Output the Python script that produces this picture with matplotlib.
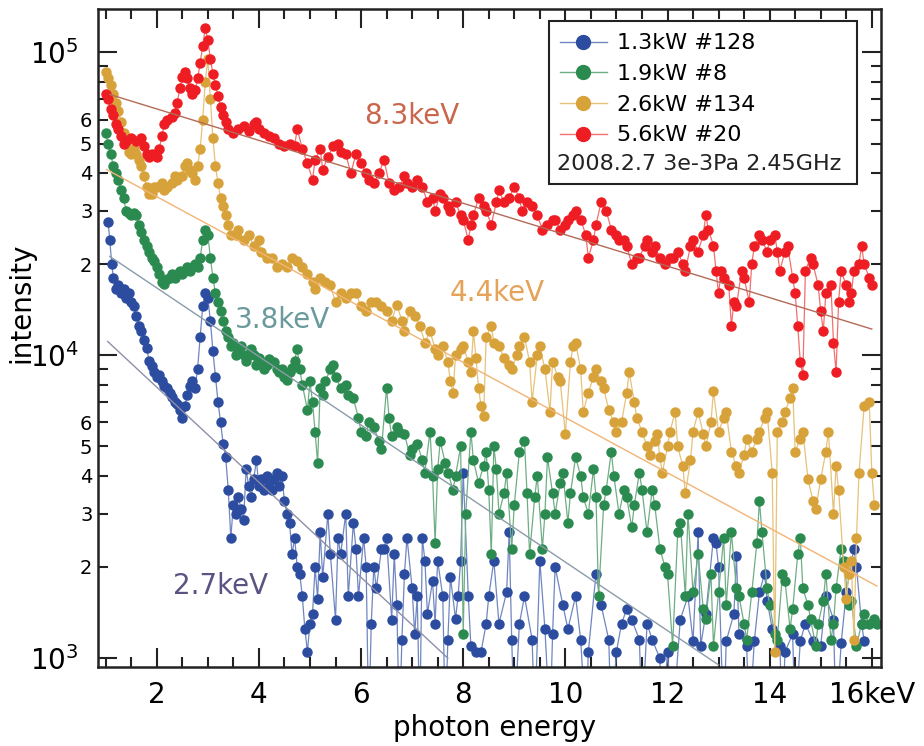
import numpy as np
import matplotlib
matplotlib.use("Agg")
import matplotlib.pyplot as plt
from matplotlib.lines import Line2D
from matplotlib.patches import Rectangle
from matplotlib.ticker import MultipleLocator, LogLocator, FuncFormatter

# (photon energy keV, intensity)
blue = [(1.05,27.5e3),(1.08,24e3),(1.12,20e3),(1.15,18e3),(1.2,16.5e3),(1.25,17e3),(1.3,16e3),(1.35,16.5e3),(1.4,15.5e3),(1.45,16e3),
        (1.5,15e3),(1.55,14.5e3),(1.6,13.5e3),(1.65,12.5e3),(1.7,12e3),(1.75,11.2e3),(1.8,10.6e3),(1.85,9.6e3),(1.9,9.2e3),(1.95,8.8e3),
        (2.0,8.5e3),(2.05,8.6e3),(2.1,8.2e3),(2.15,7.9e3),(2.2,7.8e3),(2.25,7.5e3),(2.3,7.3e3),(2.35,7e3),(2.4,6.9e3),(2.45,6.6e3),
        (2.5,6.2e3),(2.55,6.8e3),(2.6,7.4e3),(2.65,7.9e3),(2.7,8.2e3),(2.75,7.8e3),(2.8,9e3),(2.85,11.5e3),(2.9,14.5e3),(2.95,16e3),
        (3.0,15.5e3),(3.05,13e3),(3.1,10.3e3),(3.15,8.5e3),(3.2,7e3),(3.25,6e3),(3.3,5.1e3),(3.35,4.6e3),(3.4,3.6e3),(3.45,2.5e3),
        (3.5,3.2e3),(3.55,3e3),(3.6,3.4e3),(3.65,3.1e3),(3.7,2.85e3),(3.75,4.2e3),(3.8,3.7e3),(3.85,3.4e3),(3.9,3.9e3),(3.95,4.5e3),
        (4.0,3.7e3),(4.05,3.9e3),(4.1,3.6e3),(4.15,4e3),(4.2,3.8e3),(4.25,3.6e3),(4.3,3.9e3),(4.35,4.1e3),(4.4,3.7e3),(4.45,4e3),
        (4.5,3.3e3),(4.55,3e3),(4.6,2.8e3),(4.65,2.2e3),(4.7,2.5e3),(4.75,2e3),(4.8,1.9e3),(4.85,1.6e3),(4.9,1.25e3),(4.95,1.05e3),
        (5.0,1.3e3),(5.05,1.4e3),(5.1,2e3),(5.15,1.57e3),(5.2,2.6e3),(5.25,1.85e3),(5.35,3e3),(5.4,2.2e3),(5.5,1.34e3),(5.55,2.5e3),
        (5.6,2.2e3),(5.7,3e3),(5.75,1.6e3),(5.85,2.8e3),(5.9,2.3e3),(5.95,1.6e3),(6.05,2.5e3),(6.1,2e3),(6.15,600),(6.2,1.3e3),
        (6.25,2e3),(6.3,1.7e3),(6.4,2.3e3),(6.45,2.3e3),(6.5,2.5e3),(6.6,1.34e3),(6.65,2.2e3),(6.7,1.5e3),(6.75,600),(6.8,1.15e3),
        (6.85,1.9e3),(6.9,2.5e3),(7.0,1.7e3),(7.05,1.2e3),(7.1,1.6e3),(7.15,600),(7.2,2.5e3),(7.25,2.1e3),(7.3,1.4e3),(7.4,1.8e3),
        (7.45,1.3e3),(7.5,2.1e3),(7.6,1.6e3),(7.65,600),(7.7,1.15e3),(7.75,1.85e3),(7.85,1.35e3),(7.9,1.6e3),(7.95,2.1e3),(8.0,4.1e3),
        (8.1,1.6e3),(8.15,1.1e3),(8.25,1.05e3),(8.35,1.05e3),(8.45,1.3e3),(8.5,1.6e3),(8.6,2.1e3),(8.7,1.3e3),(8.85,1.65e3),(8.9,2.6e3),
        (8.95,1.15e3),(9.0,600),(9.1,1.3e3),(9.2,1.6e3),(9.35,1.15e3),(9.4,600),(9.5,2.1e3),(9.6,1.25e3),(9.7,600),(9.75,1.2e3),
        (9.8,2e3),(9.95,1.5e3),(10.05,1.25e3),(10.2,1.6e3),(10.3,1.15e3),(10.4,600),(10.45,1.05e3),(10.6,1.9e3),(10.7,1.5e3),(10.85,1.15e3),
        (10.9,600),(11.0,1.05e3),(11.1,1.3e3),(11.2,1.45e3),(11.3,1.34e3),(11.45,1.15e3),(11.5,600),(11.6,1.3e3),(11.7,1.15e3),(11.85,1e3),
        (11.9,600),(12.0,1.05e3),(12.1,600),(12.25,1.34e3),(12.4,1.6e3),(12.5,1.14e3),(12.6,2.6e3),(12.65,1.1e3),(12.75,1.4e3),(12.9,2.5e3),
        (12.95,2.4e3),(13.0,2e3),(13.1,600),(13.15,1.14e3),(13.3,1.4e3),(13.35,2.17e3),(13.4,1.2e3),(13.55,1.1e3),(13.6,600),(13.7,1.14e3),
        (13.8,1.65e3),(13.9,1.9e3),(13.95,1.55e3),(14.05,1.25e3),(14.2,1.1e3),(14.25,600),(14.3,1.05e3),(14.45,1.2e3),(14.5,600),(14.6,1.14e3),
        (14.7,1.3e3),(14.85,1.14e3),(15.0,1.1e3),(15.1,1.6e3),(15.25,1.34e3),(15.3,600),(15.4,1.12e3),(15.5,1.65e3),(15.65,2.3e3),(15.7,2e3),
        (15.8,1.3e3),(15.85,1.14e3)]

green = [(1.0,54e3),(1.05,50e3),(1.1,46e3),(1.15,42e3),(1.2,40e3),(1.25,38e3),(1.3,35e3),(1.35,33e3),(1.4,30e3),(1.45,29.5e3),
         (1.5,29e3),(1.55,29.5e3),(1.6,29e3),(1.65,27e3),(1.7,25.5e3),(1.75,24e3),(1.8,23e3),(1.85,22e3),(1.9,21e3),(1.95,20.5e3),
         (2.0,19.5e3),(2.05,18.5e3),(2.1,17.5e3),(2.15,17.2e3),(2.2,17.8e3),(2.25,18e3),(2.3,18.5e3),(2.35,18e3),(2.4,18.5e3),(2.45,19e3),
         (2.5,18.5e3),(2.55,19e3),(2.6,19.5e3),(2.65,19e3),(2.7,19.5e3),(2.75,20e3),(2.8,19.5e3),(2.85,21e3),(2.9,24e3),(2.95,26e3),
         (3.0,25e3),(3.05,21e3),(3.1,18e3),(3.15,16e3),(3.2,15e3),(3.25,14e3),(3.3,13e3),(3.35,12e3),(3.4,11.5e3),(3.45,10.7e3),
         (3.5,11e3),(3.55,10e3),(3.6,10.5e3),(3.65,10.7e3),(3.7,10e3),(3.75,9.6e3),(3.8,10e3),(3.85,10.5e3),(3.9,10e3),(3.95,9.3e3),
         (4.0,9.8e3),(4.05,9.5e3),(4.1,9e3),(4.15,9.3e3),(4.2,9.7e3),(4.3,9.5e3),(4.35,9e3),(4.4,8.8e3),(4.45,9e3),(4.5,8.5e3),
         (4.55,8.3e3),(4.6,8.8e3),(4.65,9.1e3),(4.7,9.6e3),(4.75,10.5e3),(4.8,9e3),(4.85,8e3),(4.95,6.6e3),(5.0,8.2e3),(5.05,7e3),
         (5.1,5.6e3),(5.15,4.4e3),(5.2,7.8e3),(5.25,7.4e3),(5.3,8.2e3),(5.4,9e3),(5.45,9.3e3),(5.5,8.5e3),(5.6,7.8e3),(5.7,8e3),
         (5.75,7.4e3),(5.85,7.2e3),(5.95,6.2e3),(6.0,5.6e3),(6.1,5.4e3),(6.15,6e3),(6.25,5.8e3),(6.35,5.2e3),(6.4,4.9e3),(6.5,7.8e3),
         (6.55,6.2e3),(6.6,5.4e3),(6.7,5.8e3),(6.75,5.6e3),(6.85,5.5e3),(6.95,4.7e3),(7.0,4.9e3),(7.1,5.1e3),(7.2,4.5e3),(7.25,4.1e3),
         (7.35,5.6e3),(7.4,4e3),(7.45,2.4e3),(7.5,4.2e3),(7.55,5.2e3),(7.65,4.4e3),(7.7,4.1e3),(7.8,3.6e3),(7.85,4e3),(7.95,5e3),
         (8.0,1.2e3),(8.05,3e3),(8.15,5.6e3),(8.2,4.5e3),(8.3,3.8e3),(8.4,4.3e3),(8.45,4.8e3),(8.5,3.6e3),(8.55,2.2e3),(8.6,5e3),
         (8.65,4.2e3),(8.7,3e3),(8.8,3.5e3),(8.85,4.1e3),(8.95,2.3e3),(9.0,3.2e3),(9.1,4.8e3),(9.2,5.2e3),(9.25,3.5e3),(9.3,2.2e3),
         (9.4,3.4e3),(9.45,4e3),(9.55,2.3e3),(9.6,3e3),(9.65,4.6e3),(9.75,3.5e3),(9.8,3e3),(9.9,3.8e3),(9.95,4.1e3),(10.05,2.8e3),
         (10.1,3.5e3),(10.2,4.6e3),(10.3,4e3),(10.35,3.4e3),(10.45,3e3),(10.55,4.2e3),(10.6,3.4e3),(10.65,1.6e3),(10.75,3.2e3),(10.8,3.6e3),
         (10.9,4.8e3),(10.95,4e3),(11.05,3e3),(11.15,3.6e3),(11.2,3.4e3),(11.3,2.7e3),(11.35,3.2e3),(11.45,4.1e3),(11.5,3.6e3),(11.6,2.6e3),
         (11.7,3.6e3),(11.75,3.2e3),(11.85,2.3e3),(11.95,2e3),(12.0,1.9e3),(12.1,1.1e3),(12.2,2.6e3),(12.25,2.8e3),(12.35,1.6e3),(12.4,3e3),
         (12.5,1.65e3),(12.6,2.2e3),(12.7,1.45e3),(12.75,1.35e3),(12.85,1.9e3),(12.9,1.1e3),(13.0,1.65e3),(13.1,2.5e3),(13.15,1.5e3),(13.25,2.6e3),
         (13.35,1.7e3),(13.4,1.6e3),(13.5,1.3e3),(13.55,1.15e3),(13.65,1.65e3),(13.75,2.4e3),(13.8,3.3e3),(13.85,2.6e3),(13.95,1.7e3),(14.0,1.5e3),
         (14.1,1.2e3),(14.15,1.15e3),(14.25,1.9e3),(14.3,1.8e3),(14.4,1.25e3),(14.45,1.45e3),(14.55,2.2e3),(14.6,2.5e3),(14.65,1.7e3),(14.75,1.5e3),
         (14.8,1.35e3),(14.9,1.1e3),(14.95,1.3e3),(15.05,1.55e3),(15.1,1.9e3),(15.2,1.15e3),(15.25,1.3e3),(15.3,1.7e3),(15.4,2.3e3),(15.45,2.1e3),
         (15.55,1.5e3),(15.6,1.55e3),(15.7,1.1e3),(15.8,1.3e3),(15.85,1.4e3),(15.95,1.3e3),(16.05,1.35e3),(16.1,1.3e3)]

yellow = [(1.0,86e3),(1.05,82e3),(1.1,78e3),(1.15,73e3),(1.2,68e3),(1.25,64e3),(1.3,59e3),(1.35,54e3),(1.4,50e3),(1.45,47e3),
          (1.5,46e3),(1.55,48e3),(1.6,46e3),(1.65,44e3),(1.7,42e3),(1.75,39e3),(1.8,36e3),(1.85,34e3),(1.9,34e3),(1.95,36e3),
          (2.0,36e3),(2.1,37e3),(2.15,35e3),(2.2,36e3),(2.3,37e3),(2.35,39e3),(2.4,38e3),(2.5,39e3),(2.55,42e3),(2.6,43e3),
          (2.65,41e3),(2.7,40e3),(2.75,38e3),(2.8,42e3),(2.85,48e3),(2.9,60e3),(2.95,80e3),(3.0,95e3),(3.05,70e3),(3.1,52e3),
          (3.15,42e3),(3.2,37e3),(3.25,33e3),(3.3,31e3),(3.35,29e3),(3.4,27e3),(3.45,25e3),(3.55,25e3),(3.6,26e3),(3.7,24e3),
          (3.8,25e3),(3.9,23e3),(4.0,24e3),(4.05,22e3),(4.15,21e3),(4.25,21e3),(4.35,19.5e3),(4.45,20e3),(4.55,19.5e3),(4.65,21e3),
          (4.75,20.5e3),(4.85,19.5e3),(4.95,18.5e3),(5.05,17.5e3),(5.1,16.5e3),(5.2,18e3),(5.3,17.5e3),(5.4,17e3),(5.5,15e3),(5.6,16e3),
          (5.7,15.5e3),(5.8,16e3),(5.9,16e3),(6.0,14.5e3),(6.1,14e3),(6.2,15e3),(6.3,15e3),(6.4,14.5e3),(6.5,14e3),(6.6,13e3),
          (6.7,14.7e3),(6.8,13e3),(6.85,12e3),(6.95,14e3),(7.05,13.5e3),(7.15,12.5e3),(7.25,11e3),(7.35,12e3),(7.45,10.5e3),(7.5,10e3),
          (7.6,10.7e3),(7.7,9.5e3),(7.75,8.2e3),(7.8,7.5e3),(7.85,10e3),(7.95,10.5e3),(8.0,10.7e3),(8.1,9.5e3),(8.15,8.8e3),(8.2,12e3),
          (8.25,9.8e3),(8.3,7.8e3),(8.35,6.8e3),(8.4,6.3e3),(8.45,11.5e3),(8.55,12.5e3),(8.6,11e3),(8.7,10.7e3),(8.8,9.8e3),(8.9,9.3e3),
          (8.95,9e3),(9.05,10e3),(9.1,10.7e3),(9.2,11.5e3),(9.3,9.5e3),(9.35,7e3),(9.45,10e3),(9.5,10.7e3),(9.6,9e3),(9.7,6.5e3),
          (9.75,9.5e3),(9.85,8.5e3),(9.9,8.2e3),(10.0,5.5e3),(10.1,9.5e3),(10.15,10.7e3),(10.2,11e3),(10.3,9e3),(10.35,6.5e3),(10.45,7.5e3),
          (10.55,8.5e3),(10.6,9e3),(10.7,8.2e3),(10.75,7.8e3),(10.85,6.6e3),(10.95,6e3),(11.0,5.6e3),(11.1,6e3),(11.2,7.5e3),(11.25,8.8e3),
          (11.35,7e3),(11.4,6.2e3),(11.5,5.6e3),(11.6,5e3),(11.65,4.7e3),(11.75,5.2e3),(11.8,5.5e3),(11.85,4.6e3),(11.9,4.1e3),(12.0,5e3),
          (12.05,5.6e3),(12.15,6.5e3),(12.2,5e3),(12.3,4.3e3),(12.35,3.5e3),(12.45,4.5e3),(12.5,5.6e3),(12.6,6.5e3),(12.7,5.5e3),(12.75,5e3),
          (12.85,6e3),(12.9,7.6e3),(13.0,5.6e3),(13.1,6.2e3),(13.15,6.5e3),(13.25,4.8e3),(13.35,4.3e3),(13.4,4.1e3),(13.5,4.7e3),(13.55,5.3e3),
          (13.65,4.8e3),(13.75,5.3e3),(13.8,5.6e3),(13.9,6.2e3),(13.95,6.5e3),(14.05,4.1e3),(14.1,1.05e3),(14.15,5.6e3),(14.25,6e3),(14.3,6.5e3),
          (14.4,7.2e3),(14.45,7.8e3),(14.5,4.8e3),(14.6,5.3e3),(14.65,5.6e3),(14.75,3.9e3),(14.85,3.3e3),(14.9,3.1e3),(15.0,3.9e3),(15.1,4.8e3),
          (15.15,5.6e3),(15.25,3e3),(15.3,4.3e3),(15.35,3.6e3),(15.45,2e3),(15.5,1.57e3),(15.55,1.9e3),(15.6,2.1e3),(15.65,1.15e3),(15.7,2.5e3),
          (15.75,4.1e3),(15.85,6.8e3),(15.95,7e3),(16.0,4.1e3),(16.05,3.2e3)]

red = [(1.0,73e3),(1.05,70e3),(1.1,65e3),(1.15,62e3),(1.2,58e3),(1.25,56e3),(1.3,53e3),(1.35,50e3),(1.4,51e3),(1.5,52e3),
       (1.6,51e3),(1.7,52e3),(1.75,49e3),(1.8,46e3),(1.85,45e3),(1.9,46e3),(2.0,45e3),(2.05,48e3),(2.1,53e3),(2.15,58e3),
       (2.2,60e3),(2.3,61e3),(2.35,63e3),(2.4,68e3),(2.45,76e3),(2.5,83e3),(2.55,86e3),(2.6,82e3),(2.65,76e3),(2.7,73e3),
       (2.75,75e3),(2.8,82e3),(2.85,92e3),(2.9,105e3),(2.95,120e3),(3.0,110e3),(3.05,95e3),(3.1,85e3),(3.15,78e3),(3.2,72e3),
       (3.25,66e3),(3.3,62e3),(3.35,59e3),(3.4,56e3),(3.5,54e3),(3.6,56e3),(3.7,57e3),(3.8,55e3),(3.9,58e3),(3.95,59e3),
       (4.0,56e3),(4.1,54e3),(4.2,53e3),(4.3,52e3),(4.4,50e3),(4.5,49e3),(4.6,50e3),(4.7,49e3),(4.75,56e3),(4.85,48e3),
       (4.95,43e3),(5.05,38e3),(5.1,44e3),(5.2,48e3),(5.25,41e3),(5.35,45e3),(5.45,49e3),(5.55,50e3),(5.6,47e3),(5.7,46e3),
       (5.8,40e3),(5.9,46e3),(6.0,43e3),(6.1,40e3),(6.15,38e3),(6.25,37e3),(6.35,40e3),(6.45,44e3),(6.55,37e3),(6.65,35e3),
       (6.75,36e3),(6.85,39e3),(6.9,37e3),(7.0,36e3),(7.1,38e3),(7.2,36e3),(7.3,32e3),(7.4,33e3),(7.45,30e3),(7.55,34e3),
       (7.6,33e3),(7.7,31e3),(7.75,30e3),(7.85,32e3),(7.95,29e3),(8.0,28e3),(8.1,24e3),(8.15,27e3),(8.2,29e3),(8.3,33e3),
       (8.4,31e3),(8.45,30e3),(8.55,27e3),(8.65,32e3),(8.7,35e3),(8.8,32e3),(8.9,33e3),(9.0,36e3),(9.1,33e3),(9.15,30e3),
       (9.25,32e3),(9.35,31e3),(9.45,29e3),(9.55,26e3),(9.65,27e3),(9.75,28e3),(9.8,28e3),(9.9,26e3),(10.0,27e3),(10.05,28e3),
       (10.15,29e3),(10.2,30e3),(10.3,28e3),(10.4,25e3),(10.45,21e3),(10.55,24e3),(10.6,27e3),(10.7,32e3),(10.8,30e3),(10.9,26e3),
       (11.0,25e3),(11.05,24e3),(11.15,24e3),(11.2,23e3),(11.3,20e3),(11.4,21e3),(11.45,21e3),(11.55,23e3),(11.6,24e3),(11.7,22e3),
       (11.75,23e3),(11.85,21e3),(11.95,20e3),(12.05,21e3),(12.1,21e3),(12.2,22e3),(12.3,20e3),(12.35,19e3),(12.45,23e3),(12.5,24e3),
       (12.6,22e3),(12.7,25e3),(12.75,29e3),(12.8,26e3),(12.9,23e3),(12.95,19e3),(13.0,16e3),(13.05,19e3),(13.1,18e3),(13.2,17e3),
       (13.25,12.5e3),(13.3,15e3),(13.35,14.5e3),(13.45,19e3),(13.5,18e3),(13.6,15e3),(13.65,20e3),(13.7,23e3),(13.8,25e3),(13.85,24e3),
       (13.95,22e3),(14.0,24e3),(14.1,25e3),(14.15,22e3),(14.2,19e3),(14.3,22e3),(14.35,23e3),(14.45,18e3),(14.5,16e3),(14.55,12.5e3),
       (14.6,9.5e3),(14.65,8.6e3),(14.7,19e3),(14.8,21e3),(14.85,20e3),(14.95,17e3),(15.0,14e3),(15.05,12e3),(15.1,16e3),(15.2,17e3),
       (15.25,11e3),(15.3,8.8e3),(15.35,15e3),(15.4,19e3),(15.5,17e3),(15.55,15e3),(15.6,16e3),(15.65,19e3),(15.75,20e3),(15.8,23e3),
       (15.85,20e3),(15.95,18e3),(16.0,17e3)]

labels = ["1.3kW #128", "1.9kW #8", "2.6kW #134", "5.6kW #20"]
note = "2008.2.7 3e-3Pa 2.45GHz"
colors = ["#2c4c9f", "#2b8a4f", "#d8a23a", "#ee1d23"]
line_colors = ["#6f86c0", "#6fae85", "#e6c27a", "#f2706f"]

# exponential fits, drawn as straight lines on the log axis: (E0, I0, E1, I1)
fit_temps = ["2.7keV", "3.8keV", "4.4keV", "8.3keV"]
fit_ends = [(1.04, 1.11e4, 7.7, 1.0e3),
            (1.08, 2.12e4, 13.0, 9.5e2),
            (1.02, 4.1e4, 16.1, 1.73e3),
            (1.08, 7.26e4, 16.0, 1.22e4)]
fit_colors = ["#8f8fa8", "#8a9caa", "#f2b475", "#b56a58"]
temp_pos = [(3.25, 1.73e3), (4.47, 1.31e4), (8.66, 1.61e4), (6.99, 6.15e4)]
temp_colors = ["#5a5482", "#6a9a9c", "#e6a257", "#c9664c"]

fig = plt.figure(figsize=(9.24, 7.46), dpi=100)
ax = fig.add_axes([98/924, 1 - 667/746, 783/924, 658/746])
ax.set_yscale("log")

series = [blue, green, yellow, red]
for pts, c, lc in zip(series, colors, line_colors):
    e, i = zip(*pts)
    ax.plot(e, i, color=lc, lw=0.9, marker="o", ms=6.5, mfc=c, mec=c, zorder=2)

for (e0, i0, e1, i1), fc in zip(fit_ends, fit_colors):
    ax.plot([e0, e1], [i0, i1], color=fc, lw=1.0, zorder=3)

for t, (x, y), tc in zip(fit_temps, temp_pos, temp_colors):
    ax.text(x, y, t, color=tc, fontsize=20, ha="center", va="center", zorder=4)

ax.set_xlim(0.85, 16.18)
ax.set_ylim(935, 1.39e5)

ax.xaxis.set_major_locator(MultipleLocator(2))
ax.xaxis.set_minor_locator(MultipleLocator(0.5))
ax.xaxis.set_major_formatter(FuncFormatter(lambda v, p: "16keV" if round(v) == 16 else "%d" % round(v)))
ax.yaxis.set_major_locator(LogLocator(base=10, numticks=10))
ax.yaxis.set_minor_locator(LogLocator(base=10, subs=np.arange(2, 10), numticks=20))


def minor_label(v, p):
    m = v / 10 ** np.floor(np.log10(v) + 1e-9)
    m = int(round(m))
    return str(m) if 2 <= m <= 6 else ""


ax.yaxis.set_minor_formatter(FuncFormatter(minor_label))

ax.tick_params(which="both", direction="in", top=True, right=True, width=1.5, color="#222222")
ax.tick_params(which="major", length=14)
ax.tick_params(which="minor", length=7)
ax.tick_params(axis="x", which="major", labelsize=20, pad=10)
ax.tick_params(axis="y", which="major", labelsize=20, pad=14)
ax.tick_params(axis="y", which="minor", labelsize=14, pad=4)
for s in ax.spines.values():
    s.set_linewidth(1.8)
    s.set_color("#222222")

ax.set_xlabel("photon energy", fontsize=20)
ax.xaxis.set_label_coords(0.507, -0.072)
ax.set_ylabel("intensity", fontsize=20)
ax.yaxis.set_label_coords(-0.08, 0.553)

# legend box with the run note underneath the entries
ax.add_patch(Rectangle((0.576, 0.734), 0.393, 0.248, transform=ax.transAxes,
                       facecolor="white", edgecolor="#222222", lw=1.5, zorder=5))
handles = [Line2D([], [], color=lc, lw=1.0, marker="o", ms=10, mfc=c, mec=c)
           for c, lc in zip(colors, line_colors)]
leg = ax.legend(handles, labels, loc="upper left", bbox_to_anchor=(0.590, 0.963),
                frameon=False, fontsize=16, handlelength=2.1, handletextpad=0.45,
                labelspacing=0.48, borderpad=0, borderaxespad=0)
leg.set_zorder(6)
ax.text(0.586, 0.764, note, transform=ax.transAxes, fontsize=16, ha="left", va="center",
        color="#222222", zorder=6)

fig.savefig("out.png", dpi=100)
